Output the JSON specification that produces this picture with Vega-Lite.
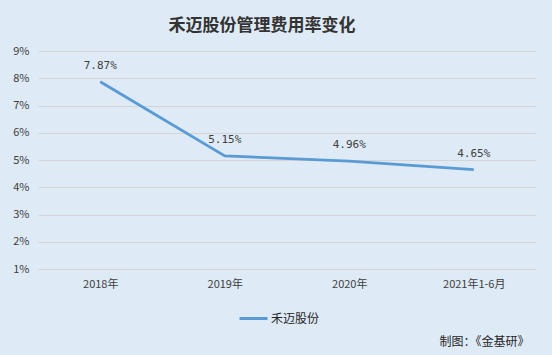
{
  "$schema": "https://vega.github.io/schema/vega-lite/v6.json",
  "autosize": {"type": "none"},
  "width": 498,
  "height": 218,
  "padding": {"left": 38, "top": 51, "right": 16, "bottom": 86},
  "background": "#DEEAF6",
  "title": {
    "text": "禾迈股份管理费用率变化",
    "anchor": "middle",
    "frame": "group",
    "dx": -25,
    "offset": 10,
    "font": "Noto Sans CJK SC",
    "fontSize": 17,
    "fontWeight": "bold",
    "color": "#333333"
  },
  "config": {
    "view": {"stroke": null},
    "axis": {"labelFont": "Noto Sans CJK SC", "labelFontSize": 11, "labelColor": "#404040"}
  },
  "data": {
    "values": [
      {"period": "2018年", "rate": 0.0787, "label": "7.87%", "series": "禾迈股份"},
      {"period": "2019年", "rate": 0.0515, "label": "5.15%", "series": "禾迈股份"},
      {"period": "2020年", "rate": 0.0496, "label": "4.96%", "series": "禾迈股份"},
      {"period": "2021年1-6月", "rate": 0.0465, "label": "4.65%", "series": "禾迈股份"}
    ]
  },
  "encoding": {
    "x": {
      "field": "period",
      "type": "ordinal",
      "sort": null,
      "scale": {"type": "point", "padding": 0.5},
      "axis": {
        "labelAngle": 0,
        "ticks": false,
        "domain": false,
        "grid": false,
        "labelPadding": 9,
        "title": "制图：《金基研》",
        "titleFont": "Noto Sans CJK SC",
        "titleFontSize": 12,
        "titleFontWeight": "normal",
        "titleColor": "#262626",
        "titleAnchor": "end",
        "titleAlign": "right",
        "titleBaseline": "middle",
        "titleX": 491,
        "titleY": 72
      }
    },
    "y": {
      "field": "rate",
      "type": "quantitative",
      "scale": {"domain": [0.01, 0.09], "nice": false, "zero": false},
      "axis": {
        "format": ".0%",
        "values": [0.01, 0.02, 0.03, 0.04, 0.05, 0.06, 0.07, 0.08, 0.09],
        "ticks": false,
        "domain": false,
        "grid": true,
        "gridColor": "#D4D4D4",
        "gridWidth": 1,
        "labelPadding": 9,
        "title": null
      }
    }
  },
  "layer": [
    {
      "mark": {"type": "line", "strokeWidth": 2.8, "color": "#5B9BD5"},
      "encoding": {
        "color": {
          "field": "series",
          "type": "nominal",
          "scale": {"range": ["#5B9BD5"]},
          "legend": {
            "orient": "none",
            "legendX": 200,
            "legendY": 252,
            "title": null,
            "symbolType": "stroke",
            "symbolSize": 784,
            "symbolStrokeWidth": 3,
            "labelFont": "Noto Sans CJK SC",
            "labelFontSize": 12,
            "labelColor": "#262626",
            "labelOffset": 2
          }
        }
      }
    },
    {
      "mark": {
        "type": "text",
        "dy": -16,
        "baseline": "middle",
        "font": "DejaVu Sans Mono",
        "fontSize": 11,
        "color": "#404040"
      },
      "encoding": {"text": {"field": "label"}}
    }
  ]
}
